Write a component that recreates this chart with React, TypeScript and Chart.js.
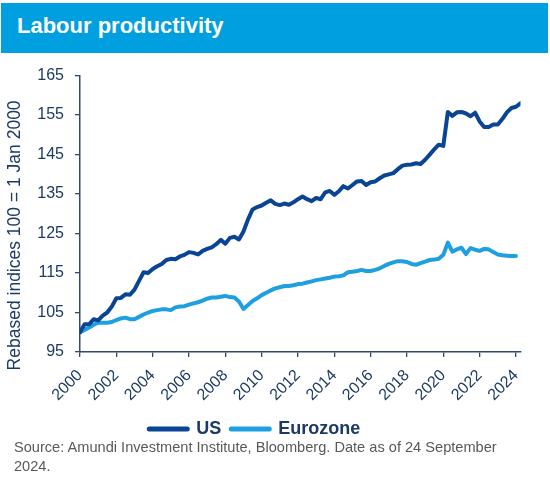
import React, { useEffect, useRef } from 'react';
import { Chart, registerables } from 'chart.js';

Chart.register(...registerables);

// ---- Data (quarterly, starting Q1 2000) ----
const startYear = 2000;
const quartersPerYear = 4;
const seriesLabels = ['US', 'Eurozone'];

const usValues = [
  100, 102, 102, 103.3, 103, 104.2, 105, 106.5,
  108.6, 108.7, 109.6, 109.5, 110.8, 113, 115.2, 115,
  116, 116.7, 117.3, 118.3, 118.6, 118.5, 119.2, 119.6,
  120.3, 120.1, 119.7, 120.6, 121.1, 121.5, 122.3, 123.4,
  122.4, 123.9, 124.2, 123.5, 125.5, 128.6, 131.1, 131.7,
  132.1, 132.8, 133.4, 132.5, 132.2, 132.6, 132.3, 132.9,
  133.7, 134.4, 133.7, 133.2, 134, 133.7, 135.4, 135.8,
  134.8, 135.7, 137, 136.4, 137.3, 138.2, 138.3, 137.3,
  138, 138.2, 139, 139.7, 140, 140.3, 141.3, 142.2,
  142.4, 142.5, 142.8, 142.6, 143.7, 145, 146.3, 147.5,
  147.2, 155.8, 154.8, 155.7, 155.8, 155.4, 154.7, 155.6,
  153.4, 152, 152, 152.6, 152.6, 154, 155.7, 156.8,
  157.1, 158,
];

const ezValues = [
  100, 100.6, 101.2, 101.9, 102.4, 102.4, 102.4, 102.6,
  103.1, 103.5, 103.7, 103.3, 103.3, 103.9, 104.5, 105.0,
  105.4, 105.6, 105.8, 105.8, 105.6, 106.3, 106.5, 106.6,
  107.0, 107.3, 107.6, 108.0, 108.5, 108.8, 108.8, 109.0,
  109.2, 108.9, 108.8, 107.8, 105.9, 106.9, 107.9, 108.6,
  109.4, 110.0, 110.6, 111.1, 111.4, 111.7, 111.7, 111.9,
  112.2, 112.3, 112.6, 112.9, 113.2, 113.4, 113.6, 113.8,
  114.1, 114.2, 114.4, 115.2, 115.3, 115.5, 115.8, 115.5,
  115.5, 115.8, 116.2, 116.8, 117.3, 117.7, 118.0, 118.0,
  117.8, 117.3, 117.1, 117.5, 117.9, 118.3, 118.4, 118.6,
  119.6, 122.7, 120.4, 121.0, 121.4, 119.8, 121.3, 120.9,
  120.6, 121.1, 121.0, 120.3, 119.7, 119.5, 119.4, 119.3,
  119.3,
];

const yTickValues = [95, 105, 115, 125, 135, 145, 155, 165];
const xTickYears = [2000, 2002, 2004, 2006, 2008, 2010, 2012, 2014, 2016, 2018, 2020, 2022, 2024];
const xMax = 2024.25;

const titleText = 'Labour productivity';
const yAxisTitle = 'Rebased indices 100 = 1 Jan 2000';
const sourceLine1 = 'Source: Amundi Investment Institute, Bloomberg. Date as of 24 September';
const sourceLine2 = '2024.';

// ---- Styles ----
const FONT = '"Liberation Sans", Arial, Helvetica, sans-serif';
const US_COLOR = '#0a4595';
const EZ_COLOR = '#1ea0e0';
const HEADER_COLOR = '#009fe0';
const TEXT_COLOR = '#1c3a63';
const AXIS_COLOR = '#33496b';

const CANVAS_LEFT = -11;
const CANVAS_TOP = 55;
const CANVAS_W = 561;
const CANVAS_H = 393;

export default function App() {
  const ref = useRef<HTMLCanvasElement | null>(null);

  useEffect(() => {
    if (!ref.current) return;
    const toPoints = (vals: number[]) =>
      vals.map((v, i) => ({ x: startYear + i / quartersPerYear, y: v }));

    const yTitlePlugin = {
      id: 'yTitleCustom',
      afterDraw(chart: any) {
        const ctx = chart.ctx;
        ctx.save();
        ctx.translate(15 - CANVAS_LEFT, 235.4 - CANVAS_TOP);
        ctx.rotate(-Math.PI / 2);
        ctx.textAlign = 'center';
        ctx.textBaseline = 'middle';
        ctx.font = `17.5px ${FONT}`;
        ctx.fillStyle = TEXT_COLOR;
        ctx.fillText(yAxisTitle, 0, 0);
        ctx.restore();
      },
    };

    const chart = new Chart(ref.current, {
      type: 'line',
      data: {
        datasets: [
          {
            label: seriesLabels[0],
            data: toPoints(usValues),
            borderColor: US_COLOR,
            backgroundColor: US_COLOR,
            borderWidth: 4,
            pointRadius: 0,
            tension: 0,
            borderCapStyle: 'round',
            borderJoinStyle: 'round',
          },
          {
            label: seriesLabels[1],
            data: toPoints(ezValues),
            borderColor: EZ_COLOR,
            backgroundColor: EZ_COLOR,
            borderWidth: 4,
            pointRadius: 0,
            tension: 0,
            borderCapStyle: 'round',
            borderJoinStyle: 'round',
          },
        ],
      },
      options: {
        animation: false,
        responsive: false,
        devicePixelRatio: 1,
        layout: { padding: { top: 17, right: 29.5, left: 0, bottom: 0 } },
        scales: {
          x: {
            type: 'linear',
            min: startYear,
            max: xMax,
            afterBuildTicks: (s: any) => {
              s.ticks = xTickYears.map((v) => ({ value: v }));
            },
            afterFit: (s: any) => {
              s.height = 58;
            },
            ticks: {
              autoSkip: false,
              minRotation: 45,
              maxRotation: 45,
              padding: 9,
              color: TEXT_COLOR,
              font: { family: FONT, size: 16 },
              callback: (v: any) => String(v),
            },
            grid: {
              drawOnChartArea: false,
              drawTicks: true,
              tickLength: 5,
              color: AXIS_COLOR,
              lineWidth: 1.3,
            },
            border: { display: true, color: AXIS_COLOR, width: 1.5 },
          },
          y: {
            min: 95,
            max: 165,
            afterBuildTicks: (s: any) => {
              s.ticks = yTickValues.map((v) => ({ value: v }));
            },
            afterFit: (s: any) => {
              s.width = 91;
            },
            ticks: {
              padding: 11,
              color: TEXT_COLOR,
              font: { family: FONT, size: 16 },
              callback: (v: any) => String(v),
            },
            grid: {
              drawOnChartArea: false,
              drawTicks: true,
              tickLength: 5,
              color: AXIS_COLOR,
              lineWidth: 1.3,
            },
            border: { display: true, color: AXIS_COLOR, width: 1.5 },
          },
        },
        plugins: {
          legend: {
            display: true,
            position: 'bottom',
            labels: {
              usePointStyle: true,
              pointStyleWidth: 38,
              padding: 10,
              color: TEXT_COLOR,
              font: { family: FONT, size: 18, weight: 'bold' },
              generateLabels: (c: any) =>
                c.data.datasets.map((ds: any, i: number) => ({
                  text: ds.label,
                  fillStyle: ds.borderColor,
                  strokeStyle: ds.borderColor,
                  lineWidth: 5,
                  lineCap: 'round',
                  pointStyle: 'line',
                  hidden: false,
                  datasetIndex: i,
                  fontColor: TEXT_COLOR,
                })),
            },
          },
          tooltip: { enabled: false },
          title: { display: false },
        },
      } as any,
      plugins: [yTitlePlugin],
    });
    return () => chart.destroy();
  }, []);

  return (
    <div
      style={{
        position: 'absolute',
        left: 0,
        top: 0,
        width: 550,
        height: 483,
        overflow: 'hidden',
        background: '#ffffff',
        fontFamily: FONT,
      }}
    >
      <div
        style={{
          position: 'absolute',
          left: 1,
          top: 3,
          width: 547,
          height: 50,
          background: HEADER_COLOR,
        }}
      >
        <div
          style={{
            position: 'absolute',
            left: 16,
            top: 8,
            color: '#ffffff',
            fontWeight: 'bold',
            fontSize: 22,
            lineHeight: '30px',
            whiteSpace: 'nowrap',
          }}
        >
          {titleText}
        </div>
      </div>
      <canvas
        ref={ref}
        width={CANVAS_W}
        height={CANVAS_H}
        style={{
          position: 'absolute',
          left: CANVAS_LEFT,
          top: CANVAS_TOP,
          width: CANVAS_W,
          height: CANVAS_H,
        }}
      />
      <div
        style={{
          position: 'absolute',
          left: 14,
          top: 438,
          fontSize: 14.6,
          lineHeight: '19px',
          color: '#595959',
          whiteSpace: 'nowrap',
        }}
      >
        {sourceLine1}
        <br />
        {sourceLine2}
      </div>
    </div>
  );
}
